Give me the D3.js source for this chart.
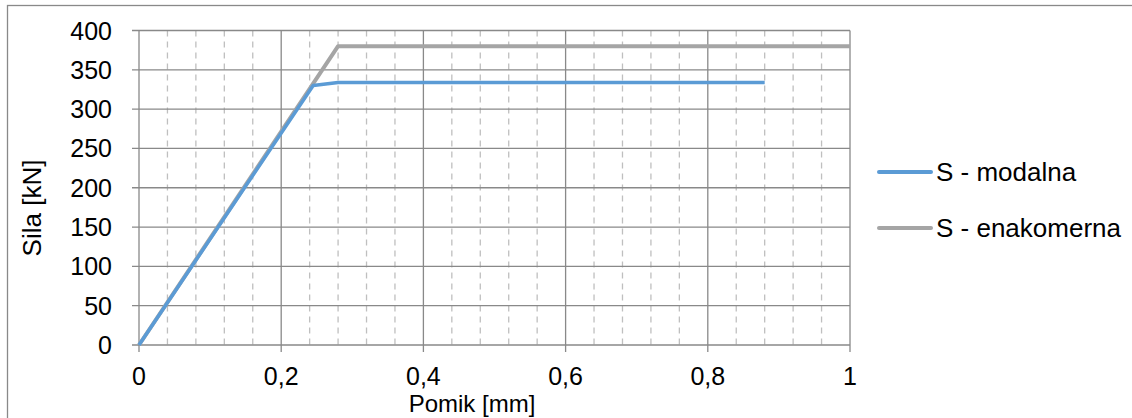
<!DOCTYPE html>
<html><head><meta charset="utf-8">
<script src="https://cdn.jsdelivr.net/npm/d3@7"></script>
<style>body{margin:0;background:#fff}svg{display:block}text{font-family:"Liberation Sans",Arial,sans-serif;fill:#000}</style>
</head><body><svg id="c" width="1132" height="418"></svg>
<script>
const modalnaX = [0, 0.245, 0.28, 0.88];
const modalnaY = [0, 330, 334, 334];
const enakomernaX = [0, 0.28, 1.0];
const enakomernaY = [0, 380, 380];
const seriesNames = ["S - modalna", "S - enakomerna"];
const seriesColors = ["#5B9BD5", "#A5A5A5"];
const xTicks = [0, 0.2, 0.4, 0.6, 0.8, 1];
const xMinor = d3.range(0.04, 1.0, 0.04);
const yTicks = [0, 50, 100, 150, 200, 250, 300, 350, 400];
const xTitle = "Pomik [mm]";
const yTitle = "Sila [kN]";

const svg = d3.select("#c");
const x = d3.scaleLinear().domain([0, 1]).range([139, 850]);
const y = d3.scaleLinear().domain([0, 400]).range([345, 30.5]);

svg.append("rect").attr("x", 7.5).attr("y", 5.5).attr("width", 1140).attr("height", 430)
  .attr("fill", "none").attr("stroke", "#898989").attr("stroke-width", 1.3);

const fmt = d => String(d).replace(".", ",");

svg.append("g").selectAll("line").data(xMinor.filter(v => xTicks.every(t => Math.abs(t - v) > 1e-6)))
  .join("line").attr("x1", d => x(d)).attr("x2", d => x(d)).attr("y1", y(400)).attr("y2", y(0))
  .attr("stroke", "#BFBFBF").attr("stroke-width", 1.3).attr("stroke-dasharray", "6,5");

svg.append("g").selectAll("line").data(yTicks)
  .join("line").attr("x1", x(0) - 7).attr("x2", x(1)).attr("y1", d => y(d)).attr("y2", d => y(d))
  .attr("stroke", "#898989").attr("stroke-width", 1.3);
svg.append("g").selectAll("line").data(xTicks)
  .join("line").attr("x1", d => x(d)).attr("x2", d => x(d)).attr("y1", y(400)).attr("y2", y(0) + 7)
  .attr("stroke", "#898989").attr("stroke-width", 1.3);

svg.append("g").selectAll("text").data(yTicks).join("text")
  .attr("x", 112).attr("y", d => y(d)).attr("dy", "0.36em").attr("text-anchor", "end")
  .attr("font-size", 25).text(d => d);
svg.append("g").selectAll("text").data(xTicks).join("text")
  .attr("x", d => x(d)).attr("y", y(0) + 39.5).attr("text-anchor", "middle")
  .attr("font-size", 25).text(fmt);

svg.append("text").attr("x", 472).attr("y", 411.5).attr("text-anchor", "middle").attr("font-size", 24).text(xTitle);
svg.append("text").attr("transform", "translate(41,208) rotate(-90)").attr("text-anchor", "middle").attr("font-size", 26).text(yTitle);

const line = d3.line().x(d => x(d[0])).y(d => y(d[1]));
const data = [d3.zip(modalnaX, modalnaY), d3.zip(enakomernaX, enakomernaY)];
svg.append("path").datum(data[1]).attr("d", line).attr("fill", "none").attr("stroke", seriesColors[1]).attr("stroke-width", 4).attr("stroke-linejoin", "round");
svg.append("path").datum(data[0]).attr("d", line).attr("fill", "none").attr("stroke", seriesColors[0]).attr("stroke-width", 3.5).attr("stroke-linejoin", "round");

const lg = svg.append("g").selectAll("g").data(seriesNames).join("g")
  .attr("transform", (d, i) => `translate(0,${172 + i * 56})`);
lg.append("line").attr("x1", 879).attr("x2", 931).attr("stroke", (d, i) => seriesColors[i]).attr("stroke-width", 4).attr("stroke-linecap", "round");
lg.append("text").attr("x", 936).attr("dy", "0.36em").attr("font-size", 26).text(d => d);
</script></body></html>
